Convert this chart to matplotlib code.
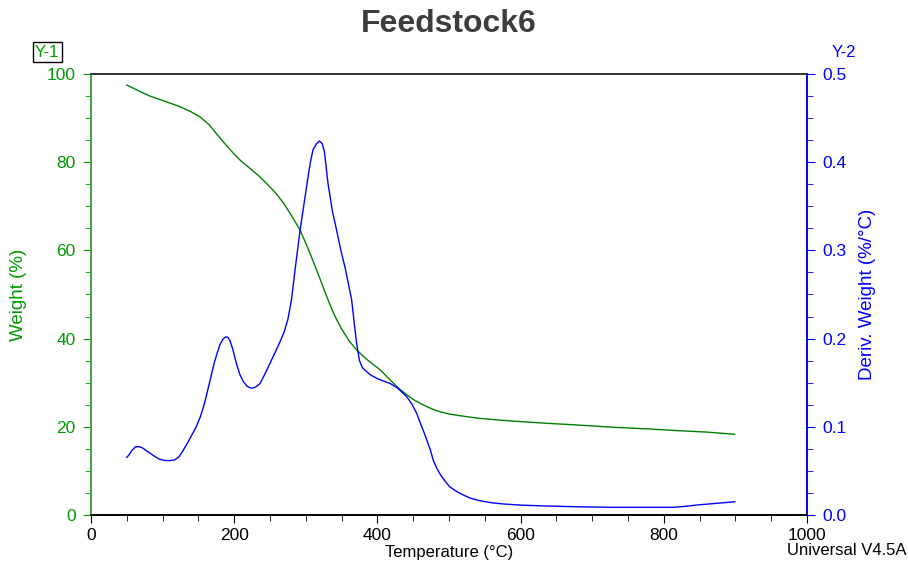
""" Curva TGA / DTG de Feedstock6 """

import numpy as np
import matplotlib.pyplot as plt

plt.rcParams['font.family'] = ['Liberation Sans', 'DejaVu Sans']

# Peso (%) frente a temperatura
temp_peso = [50, 65, 82, 100, 124, 140, 152, 165, 175, 187, 199, 210, 222, 235, 245, 258,
             269, 280, 292, 303, 315, 323, 331, 340, 350, 360, 371, 385, 404, 418, 430,
             440, 450, 460, 470, 480, 490, 500, 520, 543, 580, 636, 680, 729, 780, 823,
             860, 899]
peso = [97.5, 96.3, 95.0, 94.0, 92.6, 91.4, 90.3, 88.5, 86.5, 84.2, 82.0, 80.2, 78.6, 76.8,
        75.2, 73.0, 70.7, 67.9, 64.6, 60.5, 55.6, 52.2, 48.8, 45.3, 42.2, 39.6, 37.4, 35.3,
        32.9, 30.6, 28.7, 27.4, 26.2, 25.3, 24.5, 23.8, 23.3, 22.9, 22.4, 21.9, 21.4, 20.8,
        20.4, 19.9, 19.5, 19.1, 18.8, 18.3]

# Derivada del peso (%/°C)
temp_deriv = [50, 53, 57, 62, 67, 72, 80, 88, 95, 103, 110, 117, 123, 129, 135, 141, 147,
              153, 158, 162, 167, 172, 176, 180, 184, 188, 191, 194, 198, 203, 208, 213,
              218, 224, 230, 236, 243, 250, 257, 264, 270, 275, 280, 285, 292, 297, 301,
              306, 310, 315, 319, 323, 326, 331, 337, 343, 349, 355, 360, 364, 368, 371,
              375, 379, 383, 390, 399, 408, 418, 428, 436, 441, 448, 455, 460, 464, 469,
              474, 478, 483, 487, 492, 497, 501, 510, 520, 530, 543, 560, 576, 600, 636,
              680, 729, 770, 813, 830, 846, 870, 899]
deriv = [0.0654, 0.068, 0.073, 0.0772, 0.0775, 0.076, 0.0715, 0.067, 0.0635, 0.0618, 0.0616,
         0.0625, 0.066, 0.0737, 0.082, 0.091, 0.100, 0.112, 0.125, 0.138, 0.155, 0.172,
         0.183, 0.193, 0.199, 0.202, 0.2015, 0.198, 0.188, 0.172, 0.159, 0.151, 0.146,
         0.1436, 0.145, 0.149, 0.160, 0.172, 0.184, 0.1965, 0.208, 0.222, 0.244, 0.278,
         0.323, 0.350, 0.372, 0.398, 0.414, 0.421, 0.424, 0.421, 0.412, 0.376, 0.345,
         0.323, 0.300, 0.280, 0.260, 0.244, 0.215, 0.1946, 0.175, 0.167, 0.164, 0.159,
         0.155, 0.152, 0.149, 0.144, 0.138, 0.134, 0.126, 0.115, 0.104, 0.096, 0.085,
         0.0737, 0.062, 0.053, 0.047, 0.041, 0.036, 0.032, 0.027, 0.0227, 0.019, 0.0162,
         0.0138, 0.0125, 0.0112, 0.0102, 0.0093, 0.0087, 0.0087, 0.0087, 0.0098, 0.0113,
         0.013, 0.015]

VERDE = "#008000"
VERDE_TXT = "#009a00"
AZUL = "#0000ff"

fig = plt.figure(figsize=(9.08, 5.66), dpi=100)
ax = fig.add_axes([0.1002, 0.0901, 0.7886, 0.7792])
ax2 = ax.twinx()

ax.plot(temp_peso, peso, color=VERDE, lw=1.0)
ax2.plot(temp_deriv, deriv, color=AZUL, lw=1.0)

ax.set_xlim(0, 1000)
ax.set_ylim(0, 100)
ax2.set_ylim(0, 0.5)

ax.set_xticks(np.arange(0, 1001, 200))
ax.set_xticks(np.arange(0, 1001, 50), minor=True)
ax.set_yticks(np.arange(0, 101, 20))
ax.set_yticks(np.arange(0, 101, 5), minor=True)
ax2.set_yticks(np.arange(0, 0.51, 0.1))
ax2.set_yticks(np.arange(0, 0.51, 0.025), minor=True)
ax2.set_yticklabels([f"{v:.1f}" for v in np.arange(0, 0.51, 0.1)])

ax.tick_params(axis='x', which='major', length=6, labelsize=12.5, colors='black', pad=3)
ax.tick_params(axis='x', which='minor', length=4)
ax.tick_params(axis='y', which='major', length=6, labelsize=12.5, colors=VERDE_TXT, pad=5)
ax.tick_params(axis='y', which='minor', length=4, colors=VERDE_TXT)
ax2.tick_params(axis='y', which='major', length=6, labelsize=12.5, colors=AZUL, pad=5)
ax2.tick_params(axis='y', which='minor', length=4, colors=AZUL)

for a in (ax, ax2):
  a.spines['left'].set_color('#40a840')
  a.spines['right'].set_color(AZUL)
  a.spines['top'].set_color('#333333')
  a.spines['bottom'].set_color('black')
  for s in a.spines.values():
    s.set_linewidth(1.2)

ax.set_xlabel("Temperature (°C)", fontsize=12, labelpad=2)
ax.set_ylabel("Weight (%)", fontsize=13.5, color=VERDE_TXT, labelpad=14)
ax2.set_ylabel("Deriv. Weight (%/°C)", fontsize=13.5, color=AZUL, labelpad=9)

fig.text(0.494, 0.958, "Feedstock6", fontsize=23, fontweight='bold',
         color='#3d3d3d', ha='center', va='center')
fig.text(0.052, 0.908, "Y-1", fontsize=12, color=VERDE_TXT, ha='center', va='center',
         bbox=dict(boxstyle='square,pad=0.15', fc='white', ec='black', lw=1))
fig.text(0.929, 0.908, "Y-2", fontsize=12, color=AZUL, ha='center', va='center')
fig.text(0.998, 0.027, "Universal V4.5A", fontsize=12, color='black', ha='right', va='center')

fig.savefig("out.png", dpi=100)
